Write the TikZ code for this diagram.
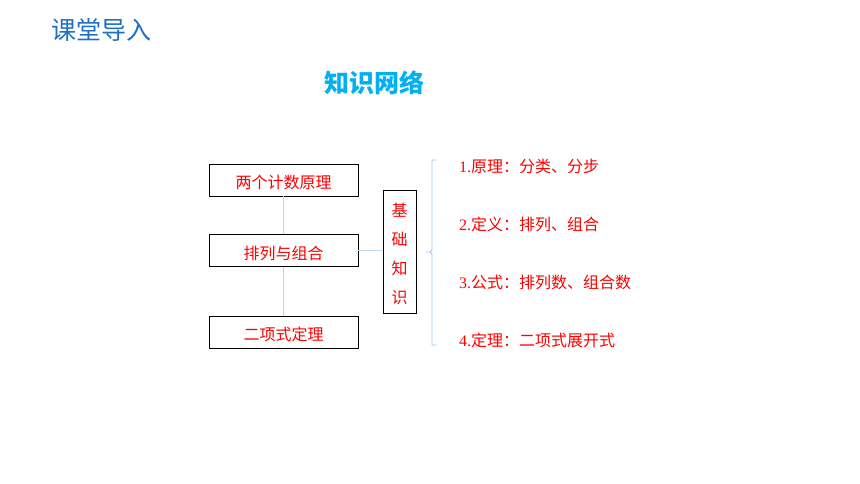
\documentclass[tikz,border=0pt]{standalone}
\usepackage{fontspec}
\setmainfont{Liberation Serif}
\newfontfamily\cjk{Noto Sans CJK SC}
\definecolor{titleblue}{HTML}{1F6FC5}
\definecolor{cyanT}{HTML}{00B0F0}
\definecolor{linkblue}{HTML}{BDD7EE}
\definecolor{bracec}{HTML}{9DC3E6}
\newcommand{\lowered}[2]{\raisebox{-#1}[\height][\depth]{#2}}
\begin{document}
\begin{tikzpicture}[x=1pt,y=-1pt,
  box/.style={draw=black,line width=0.9pt,minimum width=149pt,minimum height=32pt,inner sep=0pt,text=red,font=\cjk\fontsize{16}{18}\selectfont},
  vbox/.style={draw=black,line width=0.9pt,minimum width=33pt,minimum height=123pt,inner sep=0pt,text=red,font=\cjk\fontsize{16}{29}\selectfont,align=center},
  link/.style={draw=linkblue,line width=1.3pt},
  item/.style={anchor=west,inner sep=0pt,text=red,font=\fontsize{16}{18}\selectfont}
]
\useasboundingbox (0,0) rectangle (860,484);
\node[anchor=west,inner sep=0pt,text=titleblue,font=\cjk\fontsize{25}{28}\selectfont] (t1) at (51,30) {课堂导入};
\node[anchor=west,inner sep=0pt,text=cyanT,font=\cjk\bfseries\fontsize{25}{28}\selectfont] (t2) at (324,83) {知识网络};
\node[box] (b1) at (283.5,180) {\lowered{2.5pt}{两个计数原理}};
\node[box] (b2) at (283.5,250.5) {\lowered{2.5pt}{排列与组合}};
\node[box] (b3) at (283.5,332) {\lowered{2.5pt}{二项式定理}};
\node[vbox] (jc) at (399.5,251.5) {\lowered{2pt}{\parbox{16pt}{\centering 基\\础\\知\\识}}};
\draw[link] (b1.south) -- (b2.north);
\draw[link] (b2.south) -- (b3.north);
\draw[link] (b2.east) -- (b2.east -| jc.west);
\coordinate (bt) at (436,160);
\coordinate (bb) at (436,345);
\coordinate (bm) at (426,252);
\draw[bracec,line width=0.8pt] (bt) -- (432,160) -- (432,250) -- (430,252) -- (bm) (430,252) -- (432,254) -- (432,345) -- (bb);
\node[item] (i1) at (459,166) {1.{\cjk 原理：分类、分步}};
\node[item] (i2) at (459,224) {2.{\cjk 定义：排列、组合}};
\node[item] (i3) at (459,282) {3.{\cjk 公式：排列数、组合数}};
\node[item] (i4) at (459,340) {4.{\cjk 定理：二项式展开式}};
\end{tikzpicture}
\end{document}
